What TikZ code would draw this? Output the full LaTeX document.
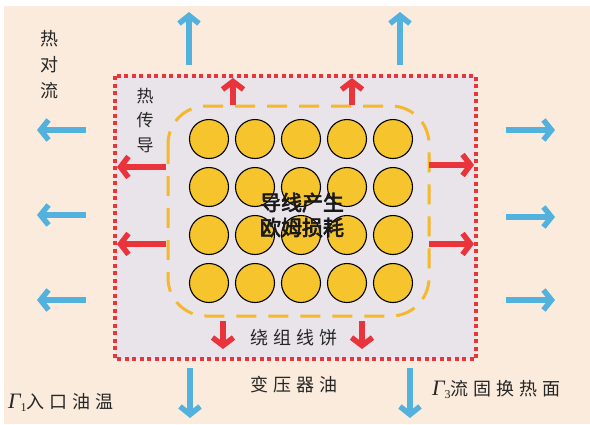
\documentclass[tikz,border=0pt]{standalone}
\usepackage{fontspec}
\usetikzlibrary{arrows.meta}
\newfontfamily\cjk{Noto Sans CJK SC}
\newfontfamily\cjkb[FakeBold=3]{Noto Sans CJK SC}
\newfontfamily\cjkw[LetterSpace=28]{Noto Sans CJK SC}
\newfontfamily\grk{Liberation Serif}
\definecolor{bgpeach}{HTML}{FBEBDC}
\definecolor{innerfill}{HTML}{E9E4EA}
\definecolor{redc}{HTML}{E8343A}
\definecolor{bluec}{HTML}{52B2DD}
\definecolor{coilc}{HTML}{F6C42C}
\definecolor{dashy}{HTML}{F5B72B}
\tikzset{
  coil/.style={circle,draw=black,line width=1.1pt,fill=coilc,minimum size=39pt,inner sep=0pt},
  bluearr/.style={draw=bluec,line width=5.5pt,-{Straight Barb[length=8pt,width=20pt]}},
  redarr/.style={draw=redc,line width=5.5pt,-{Straight Barb[length=8pt,width=21pt]}},
  lbl/.style={inner sep=0pt,text=black!85},
}
\begin{document}
\begin{tikzpicture}[x=1pt,y=-1pt]
\useasboundingbox (0,0) rectangle (590,424);
\fill[white] (0,0) rectangle (590,424);
\fill[bgpeach] (4,6) rectangle (590,424);
% inner region
\fill[innerfill] (115,76) rectangle (476,359);
\draw[redc,line width=3.5pt,dash pattern=on 4pt off 3.5pt] (115,76) rectangle (476,359);
% winding dashed outline
\draw[dashy,line width=3pt,dash pattern=on 20pt off 12pt,rounded corners=38pt] (168,106) rectangle (429,316);
% coils
\foreach \r/\y in {1/139,2/187,3/235,4/283}{
  \foreach \c/\x in {1/209,2/255,3/301,4/347,5/393}{
    \node[coil] (c\r\c) at (\x,\y) {};
  }
}
% center text
\node[lbl,font=\cjkb\fontsize{21}{25}\selectfont,align=center,text=black!90] (loss) at (302,215) {导线产生\\欧姆损耗};
% red arrows (conduction)
\draw[redarr] (233,105) -- (233,78);
\draw[redarr] (352,105) -- (352,78);
\draw[redarr] (166,167) -- (117,167);
\draw[redarr] (166,244) -- (117,244);
\draw[redarr] (429,165) -- (474,165);
\draw[redarr] (429,244) -- (474,244);
\draw[redarr] (223,321) -- (223,349);
\draw[redarr] (362,321) -- (362,349);
% blue arrows (convection)
\draw[bluearr] (189,65) -- (189,12);
\draw[bluearr] (400,65) -- (400,12);
\draw[bluearr] (86,130) -- (37,130);
\draw[bluearr] (86,215) -- (37,215);
\draw[bluearr] (86,300) -- (37,300);
\draw[bluearr] (506,130) -- (555,130);
\draw[bluearr] (506,217) -- (555,217);
\draw[bluearr] (506,300) -- (555,300);
\draw[bluearr] (190,368) -- (190,418);
\draw[bluearr] (410,368) -- (410,418);
% labels
\node[lbl,font=\cjk\fontsize{18}{26}\selectfont,align=center] (conv) at (50,65) {热\\对\\流};
\node[lbl,font=\cjk\fontsize{17}{24.5}\selectfont,align=center] (cond) at (145,120) {热\\传\\导};
\node[lbl,font=\cjkw\fontsize{18}{22}\selectfont] (wind) at (294,338) {绕组线饼};
\node[lbl,font=\cjkw\fontsize{18}{22}\selectfont] (oil) at (294,385) {变压器油};
\node[lbl,font=\cjkw\fontsize{18}{22}\selectfont,anchor=west] (inlet) at (8,402) {{\grk\itshape\fontsize{22}{22}\selectfont Γ}\raisebox{-3pt}{\grk\fontsize{12}{12}\selectfont 1}入口油温};
\node[lbl,font=\cjkw\fontsize{18}{22}\selectfont,anchor=west] (iface) at (432,389) {{\grk\itshape\fontsize{22}{22}\selectfont Γ}\raisebox{-3pt}{\grk\fontsize{12}{12}\selectfont 3}流固换热面};
\end{tikzpicture}
\end{document}
